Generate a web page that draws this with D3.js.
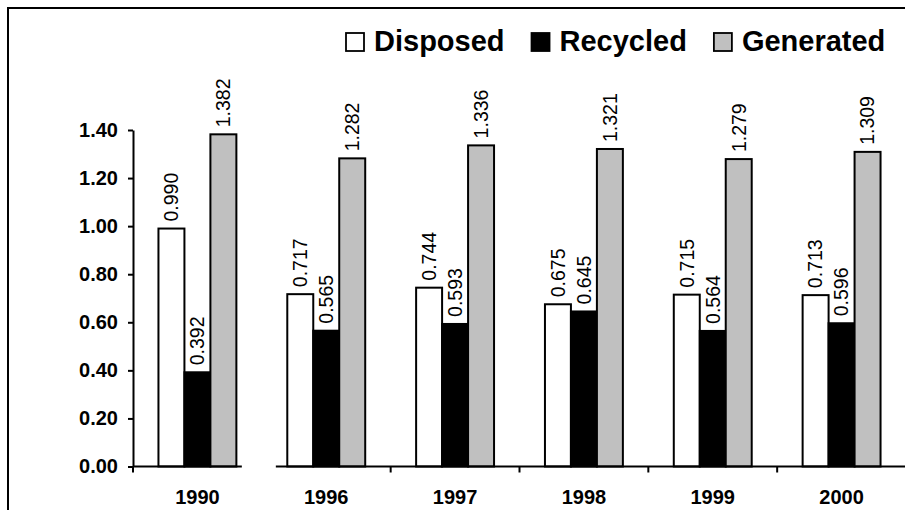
<!DOCTYPE html>
<html lang="en">
<head>
    <meta charset="utf-8">
    <title>Disposed / Recycled / Generated</title>
    <script src="https://d3js.org/d3.v7.min.js"></script>
</head>
<style type="text/css">
    body {
        margin: 0;
        background: #fff;
    }

    text {
        font-family: Arial, "Liberation Sans", sans-serif;
        fill: #000;
    }

    .tick-label {
        font-size: 20px;
        font-weight: bold;
    }

    .value-label {
        font-size: 19.5px;
    }

    .legend text {
        font-size: 29px;
        font-weight: bold;
    }
</style>
<body>
    <script>
        var width = 905,
            height = 510;

        // data
        var years = ["1990", "1996", "1997", "1998", "1999", "2000"];
        var disposed = [0.990, 0.717, 0.744, 0.675, 0.715, 0.713];
        var recycled = [0.392, 0.565, 0.593, 0.645, 0.564, 0.596];
        var generated = [1.382, 1.282, 1.336, 1.321, 1.279, 1.309];
        var seriesNames = ["Disposed", "Recycled", "Generated"];
        var yTicks = [0, 0.2, 0.4, 0.6, 0.8, 1.0, 1.2, 1.4];

        var colors = ["#ffffff", "#000000", "#c0c0c0"];

        var rows = years.map(function(yr, i) {
            return {
                year: yr,
                values: [disposed[i], recycled[i], generated[i]]
            };
        });

        // note: "top" is taken by window.top, so plot edges get their own names
        var plotLeft = 133,
            plotRight = 906,
            plotTop = 130,
            plotBottom = 466.5;

        var svg = d3.select("body").append("svg")
            .attr("width", width)
            .attr("height", height);

        // outer frame (runs off the right and bottom edges)
        svg.append("rect")
            .attr("x", 8)
            .attr("y", 8)
            .attr("width", 1000)
            .attr("height", 1000)
            .attr("fill", "none")
            .attr("stroke", "#000")
            .attr("stroke-width", 2);

        var x0 = d3.scaleBand()
            .domain(years)
            .range([plotLeft, plotRight]);

        var x1 = d3.scaleBand()
            .domain(d3.range(3))
            .range([0, x0.bandwidth()])
            .paddingOuter(0.98);

        var y = d3.scaleLinear()
            .domain([0, 1.4])
            .range([plotBottom, plotTop]);

        //Bars

        var groups = svg.selectAll("g.year")
            .data(rows)
            .enter().append("g")
            .attr("class", "year")
            .attr("transform", function(d) {
                return "translate(" + x0(d.year) + ",0)";
            });

        groups.selectAll("rect")
            .data(function(d) {
                return d.values;
            })
            .enter().append("rect")
            .attr("x", function(d, i) {
                return x1(i);
            })
            .attr("y", function(d) {
                return y(d);
            })
            .attr("width", x1.bandwidth())
            .attr("height", function(d) {
                return y(0) - y(d);
            })
            .attr("fill", function(d, i) {
                return colors[i];
            })
            .attr("stroke", "#000")
            .attr("stroke-width", 2);

        groups.selectAll("text")
            .data(function(d) {
                return d.values;
            })
            .enter().append("text")
            .attr("class", "value-label")
            .attr("transform", function(d, i) {
                return "translate(" + (x1(i) + x1.bandwidth() / 2) + "," + (y(d) - 7) + ") rotate(-90)";
            })
            .attr("dy", "0.35em")
            .attr("text-anchor", "start")
            .text(function(d) {
                return d3.format(".3f")(d);
            });

        //Y axis

        var yAxis = svg.append("g")
            .attr("transform", "translate(" + plotLeft + ",0)")
            .call(d3.axisLeft(y)
                .tickValues(yTicks)
                .tickSize(5)
                .tickSizeOuter(0)
                .tickPadding(10)
                .tickFormat(d3.format(".2f")));

        yAxis.attr("font-family", null).attr("font-size", null);
        yAxis.select(".domain").attr("stroke-width", 2);
        yAxis.selectAll(".tick line").attr("stroke-width", 2);
        yAxis.selectAll(".tick text").attr("class", "tick-label");

        //X axis, broken between 1990 and 1996

        var breakAt = x0("1996");
        var segments = [
            [plotLeft, breakAt - 20],
            [breakAt + 14, plotRight]
        ];

        svg.selectAll("line.xaxis")
            .data(segments)
            .enter().append("line")
            .attr("class", "xaxis")
            .attr("x1", function(d) { return d[0]; })
            .attr("x2", function(d) { return d[1]; })
            .attr("y1", y(0))
            .attr("y2", y(0))
            .attr("stroke", "#000")
            .attr("stroke-width", 2);

        svg.selectAll("line.xtick")
            .data(years.filter(function(yr) { return yr != "1996"; }))
            .enter().append("line")
            .attr("class", "xtick")
            .attr("x1", function(d) { return x0(d); })
            .attr("x2", function(d) { return x0(d); })
            .attr("y1", y(0))
            .attr("y2", y(0) + 6)
            .attr("stroke", "#000")
            .attr("stroke-width", 2);

        svg.selectAll("text.year")
            .data(years)
            .enter().append("text")
            .attr("class", "tick-label year")
            .attr("x", function(d) {
                return x0(d) + x0.bandwidth() / 2;
            })
            .attr("y", 504)
            .attr("text-anchor", "middle")
            .text(function(d) {
                return d;
            });

        //Legend

        var legend = svg.append("g").attr("class", "legend");
        var lx = 346;
        seriesNames.forEach(function(name, i) {
            legend.append("rect")
                .attr("x", lx)
                .attr("y", 33)
                .attr("width", 18)
                .attr("height", 18)
                .attr("fill", colors[i])
                .attr("stroke", "#000")
                .attr("stroke-width", 1.8);
            var t = legend.append("text")
                .attr("x", lx + 28)
                .attr("y", 51)
                .text(name);
            lx = lx + 28 + t.node().getComputedTextLength() + 27;
        });
    </script>
</body>
</html>
